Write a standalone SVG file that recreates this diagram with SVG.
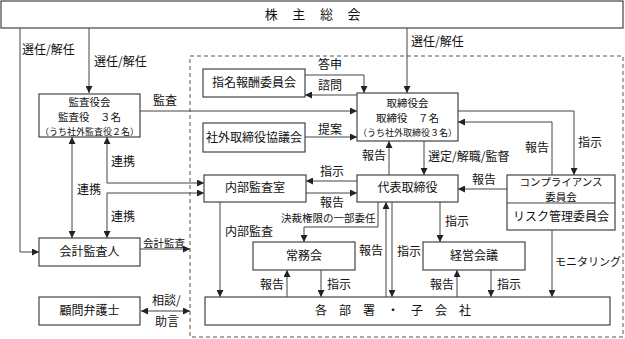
<svg xmlns="http://www.w3.org/2000/svg" width="625" height="339" viewBox="0 0 625 339">
<defs>
<marker id="ah" viewBox="0 0 8 8" refX="8" refY="4" markerWidth="7" markerHeight="7" markerUnits="userSpaceOnUse" orient="auto-start-reverse">
<path d="M0,0 L8,4 L0,8 z" fill="#222"/>
</marker>
<style>
text{font-family:"Noto Sans CJK JP","Noto Sans",sans-serif;font-size:12px;fill:#111}
.c{text-anchor:middle}
.t{font-size:10.5px}
.s{font-size:9px}
.m{font-size:10.5px}
.box{fill:#fff;stroke:#444;stroke-width:1.2}
.ln{fill:none;stroke:#444;stroke-width:1}
.a{marker-end:url(#ah)}
.b{marker-start:url(#ah);marker-end:url(#ah)}
</style>
</defs>
<rect x="0" y="0" width="625" height="339" fill="#fff"/>
<rect x="190" y="56" width="433" height="281" fill="none" stroke="#555" stroke-width="1" stroke-dasharray="4,3"/>

<g id="connectors">
<path class="ln a" d="M20,28 V252 H39"/>
<path class="ln a" d="M89,28 V93"/>
<path class="ln a" d="M407,28 V93"/>
<path class="ln a" d="M140,111 H357"/>
<path class="ln a" d="M305,75 H364 V93"/>
<path class="ln a" d="M357,95 H305"/>
<path class="ln a" d="M305,137 H357"/>
<path class="ln b" d="M107,137 V183 H204"/>
<path class="ln b" d="M72,137 V238"/>
<path class="ln b" d="M204,193 H107 V238"/>
<path class="ln a" d="M357,181 H306"/>
<path class="ln a" d="M306,193 H357"/>
<path class="ln a" d="M389,175 V141"/>
<path class="ln a" d="M424,141 V175"/>
<path class="ln a" d="M458,111 H574 V175"/>
<path class="ln a" d="M552,175 V122 H458"/>
<path class="ln a" d="M507,189 H458"/>
<path class="ln a" d="M552,230 V297"/>
<path class="ln a" d="M440,202 V242"/>
<path class="ln a" d="M378,202 V227 H304 V242"/>
<path class="ln a" d="M386,297 V202"/>
<path class="ln a" d="M392,202 V297"/>
<path class="ln a" d="M220,202 V297"/>
<path class="ln a" d="M287,297 V270"/>
<path class="ln a" d="M321,270 V297"/>
<path class="ln a" d="M457,297 V270"/>
<path class="ln a" d="M491,270 V297"/>
<path class="ln a" d="M140,249 H190"/>
<path class="ln b" d="M141,311 H190"/>
</g>

<g id="labels">
<text x="22" y="54">選任/解任</text>
<text x="94" y="66">選任/解任</text>
<text x="411" y="46">選任/解任</text>
<text x="153" y="105">監査</text>
<text x="318" y="69">答申</text>
<text x="318" y="90">諮問</text>
<text x="318" y="134">提案</text>
<text x="111" y="166">連携</text>
<text x="77" y="194">連携</text>
<text x="111" y="221">連携</text>
<text x="320" y="176">指示</text>
<text x="320" y="207">報告</text>
<text x="362" y="160">報告</text>
<text x="428" y="161">選定/解職/監督</text>
<text x="578" y="147">指示</text>
<text x="525" y="152">報告</text>
<text x="472" y="184">報告</text>
<text x="555" y="266" style="font-size:11px">モニタリング</text>
<text x="445" y="226">指示</text>
<text class="m" x="281" y="222">決裁権限の一部委任</text>
<text x="225" y="236">内部監査</text>
<text x="359" y="255">報告</text>
<text x="397" y="256">指示</text>
<text x="260" y="289">報告</text>
<text x="327" y="289">指示</text>
<text x="430" y="289">報告</text>
<text x="497" y="289">指示</text>
<text class="m" x="143" y="247">会計監査</text>
<text x="152" y="305">相談/</text>
<text x="155" y="326">助言</text>
</g>

<g id="kabunushi">
<rect class="box" x="1" y="1" width="622" height="27"/>
<text class="c" x="313" y="19" style="font-size:13px;letter-spacing:0.8px">株　主　総　会</text>
</g>
<g id="kansayakukai">
<rect class="box" x="39" y="94" width="101" height="43"/>
<text class="c t" x="89.5" y="106">監査役会</text>
<text class="c t" x="89.5" y="121">監査役　３名</text>
<text class="c s" x="89.5" y="134.5">（うち社外監査役２名）</text>
</g>
<g id="shimei">
<rect class="box" x="203" y="69" width="102" height="28"/>
<text class="c" x="254" y="87">指名報酬委員会</text>
</g>
<g id="torishimariyakukai">
<rect class="box" x="357" y="93" width="101" height="48"/>
<text class="c t" x="407.5" y="107">取締役会</text>
<text class="c t" x="407.5" y="122">取締役　７名</text>
<text class="c s" x="407.5" y="136">（うち社外取締役３名）</text>
</g>
<g id="shagai">
<rect class="box" x="203" y="123" width="102" height="29"/>
<text class="c" x="254" y="142">社外取締役協議会</text>
</g>
<g id="naibu">
<rect class="box" x="204" y="175" width="102" height="27"/>
<text class="c" x="255" y="192">内部監査室</text>
</g>
<g id="daihyo">
<rect class="box" x="357" y="175" width="101" height="27"/>
<text class="c" x="407.5" y="192">代表取締役</text>
</g>
<g id="compliance">
<rect class="box" x="507" y="175" width="108" height="55"/>
<line x1="507" y1="203" x2="615" y2="203" stroke="#444" stroke-width="1.2"/>
<text class="c t" x="561" y="186">コンプライアンス</text>
<text class="c t" x="561" y="200.5">委員会</text>
<text class="c" x="561" y="221">リスク管理委員会</text>
</g>
<g id="jomukai">
<rect class="box" x="253" y="242" width="102" height="28"/>
<text class="c" x="304" y="260">常務会</text>
</g>
<g id="keiei">
<rect class="box" x="423" y="242" width="102" height="28"/>
<text class="c" x="474" y="260">経営会議</text>
</g>
<g id="kaikei">
<rect class="box" x="39" y="238" width="101" height="28"/>
<text class="c" x="89.5" y="256">会計監査人</text>
</g>
<g id="komon">
<rect class="box" x="39" y="297" width="101" height="28"/>
<text class="c" x="89.5" y="315">顧問弁護士</text>
</g>
<g id="kakubusho">
<rect class="box" x="205" y="297" width="405" height="28"/>
<text class="c" x="393" y="315">各　部　署　・　子　会　社</text>
</g>
</svg>
